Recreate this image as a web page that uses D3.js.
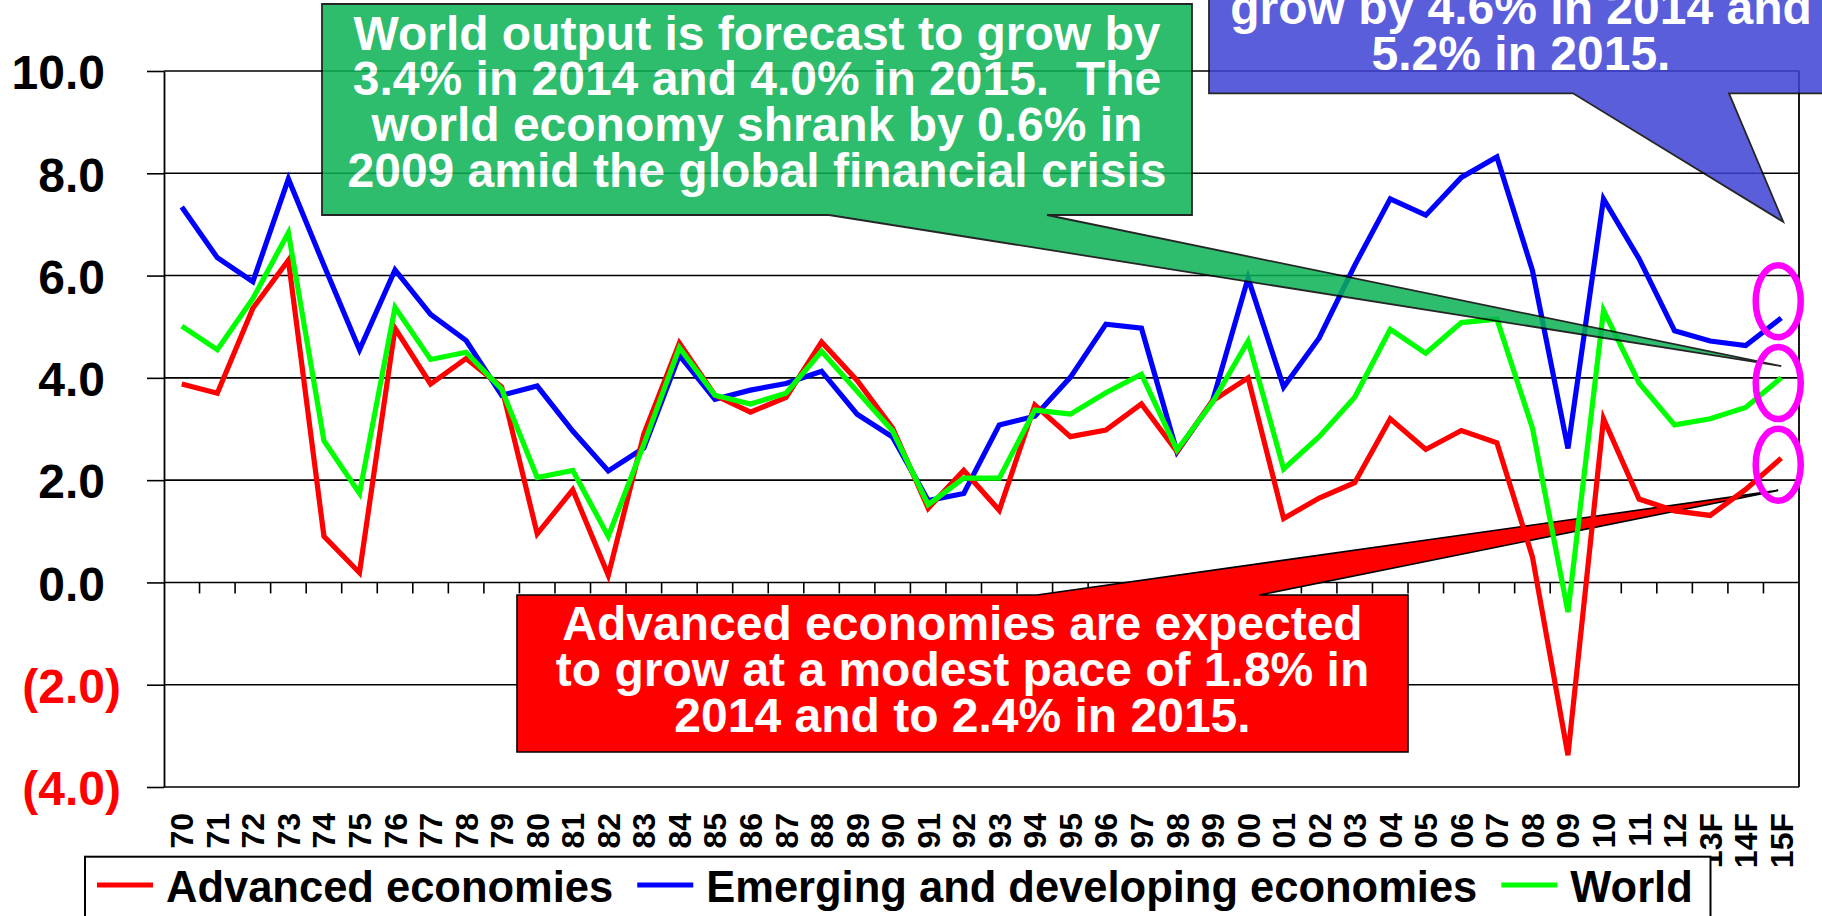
<!DOCTYPE html>
<html><head><meta charset="utf-8">
<script src="https://cdn.jsdelivr.net/npm/d3@7"></script>
<style>
body{margin:0;background:#fff}
svg{display:block}
text{font-family:"Liberation Sans",Arial,sans-serif;font-weight:bold}
</style>
</head><body>
<svg id="c" width="1822" height="916"></svg>
<script>
// ---------- data ----------
const categories = ["70","71","72","73","74","75","76","77","78","79",
  "80","81","82","83","84","85","86","87","88","89",
  "90","91","92","93","94","95","96","97","98","99",
  "00","01","02","03","04","05","06","07","08","09",
  "10","11","12","13F","14F","15F"];
const advanced = [3.88,3.70,5.36,6.30,0.90,0.19,4.97,3.88,4.38,3.82,
  0.95,1.81,0.14,2.90,4.68,3.66,3.33,3.62,4.70,3.95,
  3.02,1.45,2.19,1.41,3.47,2.85,2.98,3.49,2.56,3.55,
  4.00,1.25,1.65,1.95,3.20,2.60,2.97,2.73,0.50,-3.38,
  3.20,1.63,1.40,1.31,1.82,2.43];
const emerging = [7.34,6.35,5.88,7.89,6.20,4.55,6.11,5.24,4.73,3.66,
  3.84,2.96,2.18,2.63,4.44,3.58,3.76,3.89,4.13,3.29,
  2.84,1.60,1.74,3.08,3.25,4.01,5.05,4.97,2.55,3.55,
  5.95,3.82,4.78,6.20,7.50,7.18,7.92,8.32,6.10,2.62,
  7.50,6.33,4.92,4.72,4.63,5.17];
const world = [5.01,4.55,5.55,6.84,2.77,1.74,5.38,4.36,4.50,3.78,
  2.05,2.19,0.90,2.70,4.59,3.66,3.49,3.70,4.52,3.74,
  2.96,1.52,2.04,2.04,3.37,3.29,3.71,4.07,2.59,3.52,
  4.72,2.22,2.85,3.62,4.95,4.48,5.08,5.15,3.02,-0.58,
  5.32,3.90,3.08,3.20,3.42,4.00];
const yTicks = [10,8,6,4,2,0,-2,-4];
const seriesNames = ["Advanced economies","Emerging and developing economies","World"];
const seriesColors = ["#ff0000","#0000ff","#00ff00"];
const greenText = ["World output is forecast to grow by",
  "3.4% in 2014 and 4.0% in 2015.  The",
  "world economy shrank by 0.6% in",
  "2009 amid the global financial crisis"];
const redText = ["Advanced economies are expected",
  "to grow at a modest pace of 1.8% in",
  "2014 and to 2.4% in 2015."];
const blueText = ["grow by 4.6% in 2014 and", "5.2% in 2015."];
const calloutTips = {green: 4.23, blue: 7.05, red: 1.8};
const ellipseValues = [5.5, 3.9, 2.3];

// ---------- layout ----------
const svg = d3.select("#c");
const m = {left:164, right:1799, top:71, bottom:787};
const x = d3.scaleBand().domain(categories).range([m.left, m.right]);
const y = d3.scaleLinear().domain([-4,10]).range([m.bottom, m.top]);
const cx = c => x(c) + x.bandwidth()/2;
const fmt = d3.format(".1f");

// gridlines
svg.append("g").selectAll("line").data(yTicks).join("line")
  .attr("x1", m.left).attr("x2", m.right)
  .attr("y1", d => y(d)).attr("y2", d => y(d))
  .attr("stroke", "#000").attr("stroke-width", 1.6);
// right border
svg.append("line").attr("x1", m.right).attr("x2", m.right)
  .attr("y1", y(10)).attr("y2", y(-4)).attr("stroke","#000").attr("stroke-width",1.8);

// y axis
const yAxis = d3.axisLeft(y).tickValues(yTicks).tickSize(17).tickSizeOuter(0).tickPadding(42)
  .tickFormat(d => d < 0 ? "(" + fmt(-d) + ")" : fmt(d));
const gy = svg.append("g").attr("transform", `translate(${m.left},0)`).call(yAxis);
gy.select(".domain").attr("stroke","#000").attr("stroke-width",1.8);
gy.selectAll(".tick line").attr("stroke","#000").attr("stroke-width",1.6);
gy.selectAll(".tick text")
  .attr("font-size", 48).attr("font-family", '"Liberation Sans",Arial,sans-serif')
  .attr("font-weight","bold").attr("dy","0.37em")
  .attr("fill", d => d < 0 ? "#ff0000" : "#000")
  .attr("x", d => d < 0 ? -43 : -59);

// x ticks on zero line
svg.append("g").selectAll("line").data(categories.slice(1)).join("line")
  .attr("x1", d => x(d)).attr("x2", d => x(d))
  .attr("y1", y(0)).attr("y2", y(0) + 11)
  .attr("stroke","#000").attr("stroke-width",1.6);

// x labels
svg.append("g").selectAll("text").data(categories).join("text")
  .attr("transform", d => `translate(${cx(d)},813) rotate(-90)`)
  .attr("text-anchor","end").attr("dy","0.36em")
  .attr("font-size", 32).attr("fill","#000")
  .text(d => d);

// callout shape helper
function calloutPath(box, base, tip, side){
  const [l,t,r,b] = box;
  if (side === "bottom")
    return `M${l},${t}H${r}V${b}H${base[1]}L${tip[0]},${tip[1]}L${base[0]},${b}H${l}Z`;
  return `M${l},${t}H${base[0]}L${tip[0]},${tip[1]}L${base[1]},${t}H${r}V${b}H${l}Z`;
}

// red callout (opaque)
const redG = svg.append("g");
redG.append("path")
  .attr("d", calloutPath([517,595,1408,752],[1037,1259.5],[cx("15F")-3, y(calloutTips.red)],"top"))
  .attr("fill","#ff0000").attr("stroke","#000").attr("stroke-width",1.6);
redG.selectAll("text").data(redText).join("text")
  .attr("x", 962.5).attr("y", (d,i) => 640 + i*46)
  .attr("text-anchor","middle").attr("font-size",48).attr("fill","#fff").text(d => d);

// series lines
const series = [
  {name: seriesNames[1], color: seriesColors[1], values: emerging},
  {name: seriesNames[0], color: seriesColors[0], values: advanced},
  {name: seriesNames[2], color: seriesColors[2], values: world}
];
const line = d3.line().x((d,i) => cx(categories[i])).y(d => y(d));
svg.append("g").selectAll("path").data(series).join("path")
  .attr("d", d => line(d.values))
  .attr("fill","none").attr("stroke", d => d.color).attr("stroke-width",5.2)
  .attr("stroke-linejoin","miter");

// green callout (semi-transparent)
const greenG = svg.append("g").attr("opacity",0.85);
greenG.append("path")
  .attr("d", calloutPath([322,4,1192,215],[829,1047],[cx("15F"), y(calloutTips.green)],"bottom"))
  .attr("fill","#0ab154").attr("stroke","#000").attr("stroke-width",1.8);
greenG.selectAll("text").data(greenText).join("text")
  .attr("x", 757).attr("y", (d,i) => 49.5 + i*45.8)
  .attr("text-anchor","middle").attr("font-size",48).attr("fill","#fff")
  .style("white-space","pre").attr("xml:space","preserve").text(d => d);

// blue callout (semi-transparent)
const blueG = svg.append("g").attr("opacity",0.85);
blueG.append("path")
  .attr("d", calloutPath([1209,-60,1835,93.3],[1573,1729],[cx("15F")+2, y(calloutTips.blue)],"bottom"))
  .attr("fill","#3f42d5").attr("stroke","#000").attr("stroke-width",1.8);
blueG.selectAll("text").data(blueText).join("text")
  .attr("x", 1521).attr("y", (d,i) => 23.5 + i*46.5)
  .attr("text-anchor","middle").attr("font-size",48).attr("fill","#fff").text(d => d);

// magenta ellipses
svg.append("g").selectAll("ellipse").data(ellipseValues).join("ellipse")
  .attr("cx", cx("15F") - 3).attr("cy", d => y(d))
  .attr("rx", 22.5).attr("ry", 36)
  .attr("fill","none").attr("stroke","#ff00ff").attr("stroke-width",6.5);

// legend
const lg = svg.append("g");
lg.append("rect").attr("x",85).attr("y",856.7).attr("width",1625.5).attr("height",90)
  .attr("fill","#fff").attr("stroke","#000").attr("stroke-width",2);
let lx = 97;
[0,1,2].forEach(i => {
  lg.append("line").attr("x1", lx).attr("x2", lx + 56).attr("y1", 885).attr("y2", 885)
    .attr("stroke", seriesColors[i]).attr("stroke-width", 5);
  const t = lg.append("text").attr("x", lx + 69).attr("y", 901.7)
    .attr("font-size", 43.5).attr("fill","#000").text(seriesNames[i]);
  lx = lx + 69 + t.node().getComputedTextLength() + 24;
});
</script>
</body></html>
